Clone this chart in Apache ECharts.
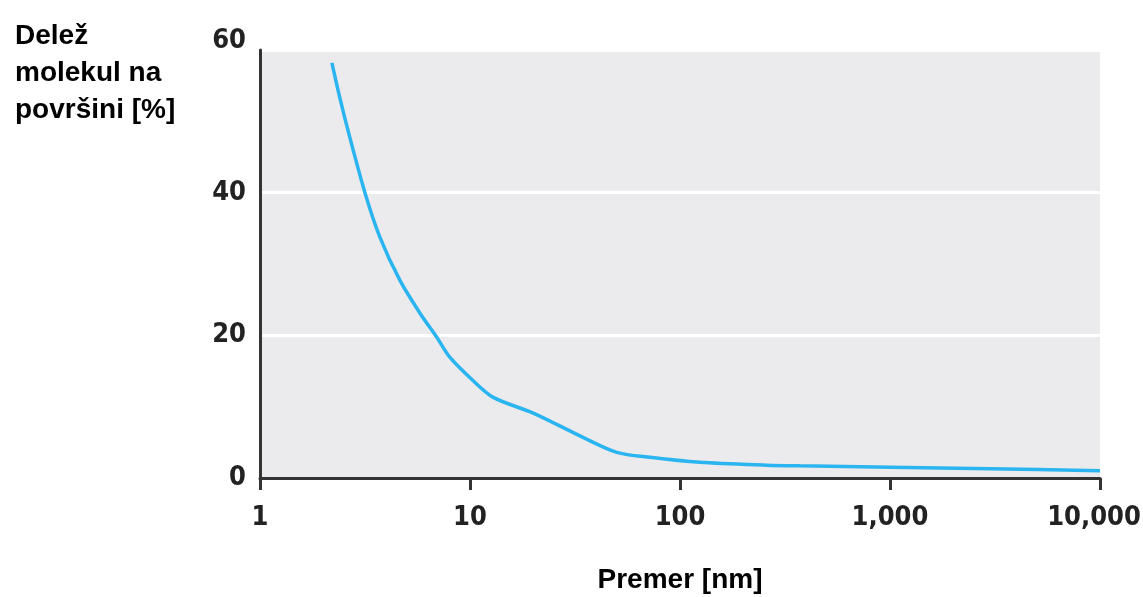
<!DOCTYPE html>
<html>
<head>
<meta charset="utf-8">
<script src="https://cdn.jsdelivr.net/npm/echarts@6/dist/echarts.min.js"></script>
<style>
  html, body { margin: 0; padding: 0; background: #fff; }
  #chart { width: 1143px; height: 597px; }
</style>
</head>
<body>
<div id="chart"></div>
<script>
// Particle diameter in nm (log scale)
const diameters = [2.2, 2.4, 2.68, 3.16, 3.73, 4.64, 5.78, 6.96, 8.03, 10.3, 12.9, 20, 34.5, 50, 72, 124, 259, 372, 1000, 3000, 10000];
// Share of molecules located at the surface, in %
const surfaceShare = [58.2, 53.3, 47.7, 40, 33.7, 27.7, 23.1, 19.7, 16.9, 13.7, 11.3, 9.1, 5.7, 3.6, 2.9, 2.2, 1.8, 1.7, 1.5, 1.3, 1.0];
// Axis labels
const yTicks = [0, 20, 40, 60];
const xTickLabels = { 1: '1', 10: '10', 100: '100', 1000: '1,000', 10000: '10,000' };

const points = diameters.map((d, i) => [d, surfaceShare[i]]);

const chart = echarts.init(document.getElementById('chart'), null, { renderer: 'canvas' });

const tickFont = {
  fontFamily: '"DejaVu Sans Condensed", "Liberation Sans", Arial, sans-serif',
  fontWeight: 'bold',
  fontSize: 27,
  color: '#222'
};

chart.setOption({
  animation: false,
  backgroundColor: '#ffffff',
  title: {
    text: 'Delež\nmolekul na\npovršini [%]',
    left: 10,
    top: 13,
    textStyle: {
      fontFamily: '"Liberation Sans", Arial, sans-serif',
      fontWeight: 'bold',
      fontSize: 28,
      lineHeight: 37,
      color: '#000'
    }
  },
  grid: {
    left: 260,
    right: 43,
    top: 50,
    bottom: 119,
    containLabel: false,
    outerBoundsMode: 'none',
    show: true,
    backgroundColor: '#ebebed',
    borderWidth: 0
  },
  xAxis: {
    type: 'log',
    logBase: 10,
    min: 1,
    max: 10000,
    name: 'Premer [nm]',
    nameLocation: 'middle',
    nameGap: 88,
    nameTextStyle: {
      fontFamily: '"Liberation Sans", Arial, sans-serif',
      fontWeight: 'bold',
      fontSize: 28,
      color: '#000'
    },
    axisLine: { show: true, lineStyle: { color: '#333', width: 3 } },
    axisTick: { show: true, length: 12, lineStyle: { color: '#333', width: 3 } },
    axisLabel: Object.assign({}, tickFont, {
      margin: 26,
      formatter: v => {
        const t = xTickLabels[Math.round(v)] || '';
        return Math.round(v) === 10000 ? '{edge|' + t + '}' : t;
      },
      rich: {
        edge: Object.assign({}, tickFont, { padding: [0, 12, 0, 0] })
      }
    }),
    splitLine: { show: false },
    minorTick: { show: false }
  },
  yAxis: {
    type: 'value',
    min: 0,
    max: 60,
    interval: 20,
    axisLine: { show: true, lineStyle: { color: '#333', width: 3 } },
    axisTick: { show: false },
    axisLabel: Object.assign({}, tickFont, {
      margin: 14,
      formatter: v => (v === 60 ? '{top|' + v + '}' : String(v)),
      rich: {
        top: Object.assign({}, tickFont, { padding: [0, 0, 18, 0] })
      }
    }),
    splitLine: { show: true, lineStyle: { color: '#ffffff', width: 3 } }
  },
  series: [{
    type: 'line',
    data: points,
    smooth: 0.3,
    showSymbol: false,
    lineStyle: { color: '#2bb5f0', width: 3.5 },
    z: 3
  }]
});
</script>
</body>
</html>
